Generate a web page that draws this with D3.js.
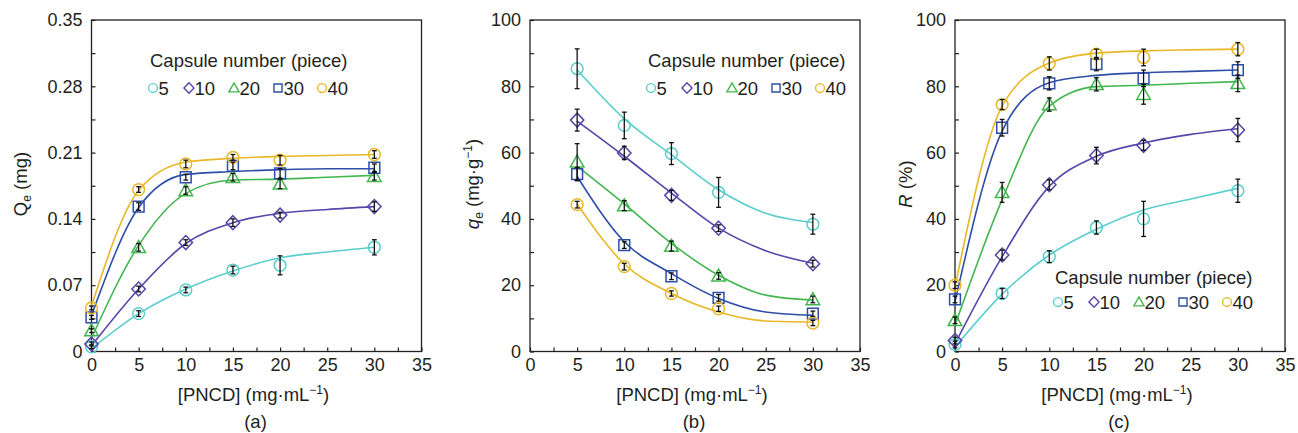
<!DOCTYPE html>
<html>
<head>
<meta charset="utf-8">
<script src="https://cdn.jsdelivr.net/npm/d3@7"></script>
<style>
  body { margin: 0; background: #fff; }
  text { font-family: Arial, "Liberation Sans", sans-serif; fill: #231f20; }
</style>
</head>
<body>
<svg id="chart" width="1298" height="433"></svg>
<script>
// ---- data ----
const capsules = [`5`, `10`, `20`, `30`, `40`];
const colors = [`#5ccdcd`, `#5546a8`, `#43b64f`, `#2f4ea8`, `#e8b828`];
const shapes = [`circle`, `diamond`, `triangle`, `square`, `circle`];

const xAC = [0, 5, 10, 15, 20, 30];
const xB = [5, 10, 15, 20, 30];
const fitXAC = [0, 5, 10, 15, 20, 25, 30];
const fitXB = [5, 10, 15, 20, 25, 30];

// (a) Qe (mg)
const qeMean = [
  [0.005, 0.040, 0.065, 0.086, 0.091, 0.110],
  [0.008, 0.066, 0.115, 0.136, 0.144, 0.153],
  [0.022, 0.110, 0.170, 0.184, 0.177, 0.185],
  [0.036, 0.153, 0.184, 0.196, 0.188, 0.194],
  [0.046, 0.171, 0.198, 0.205, 0.202, 0.208]
];
const qeErr = [
  [0.002, 0.003, 0.003, 0.004, 0.010, 0.008],
  [0.002, 0.003, 0.003, 0.004, 0.003, 0.005],
  [0.002, 0.004, 0.004, 0.004, 0.005, 0.004],
  [0.002, 0.004, 0.003, 0.004, 0.005, 0.004],
  [0.002, 0.003, 0.004, 0.003, 0.005, 0.004]
];
const qeFit = [
  [0.003, 0.040, 0.066, 0.085, 0.099, 0.105, 0.110],
  [0.006, 0.066, 0.114, 0.136, 0.146, 0.150, 0.153],
  [0.014, 0.112, 0.167, 0.181, 0.182, 0.184, 0.186],
  [0.038, 0.152, 0.187, 0.190, 0.192, 0.193, 0.193],
  [0.048, 0.170, 0.200, 0.204, 0.206, 0.207, 0.208]
];

// (b) qe (mg/g)
const qMean = [
  [85.3, 68.2, 59.7, 48.0, 38.4],
  [69.8, 59.9, 47.1, 37.2, 26.5],
  [57.2, 44.0, 31.8, 22.8, 15.7],
  [53.5, 32.1, 22.7, 16.2, 11.4],
  [44.3, 25.6, 17.5, 12.9, 8.6]
];
const qErr = [
  [6.0, 4.0, 3.3, 4.5, 3.0],
  [3.3, 2.0, 1.5, 1.0, 1.0],
  [5.5, 1.5, 1.5, 1.0, 1.0],
  [2.0, 1.0, 1.0, 1.0, 0.8],
  [1.0, 1.0, 0.8, 0.8, 0.8]
];
const qFit = [
  [85.0, 70.2, 59.4, 48.8, 41.7, 38.9],
  [69.5, 58.9, 47.8, 37.2, 30.4, 26.6],
  [55.9, 44.5, 32.6, 23.0, 17.0, 15.5],
  [52.8, 33.1, 23.5, 16.0, 11.9, 10.9],
  [44.5, 26.4, 17.5, 11.9, 9.2, 8.9]
];

// (c) R (%)
const rMean = [
  [2.1, 17.5, 28.6, 37.4, 40.0, 48.5],
  [3.3, 29.1, 50.3, 59.1, 62.2, 66.8],
  [9.4, 48.0, 74.5, 80.6, 77.6, 80.9],
  [15.7, 67.5, 80.9, 86.7, 82.4, 84.9],
  [20.0, 74.5, 86.9, 89.7, 88.7, 91.2]
];
const rErr = [
  [1.0, 1.5, 1.8, 2.0, 5.3, 3.5],
  [1.0, 1.5, 1.5, 2.5, 1.5, 3.5],
  [1.0, 3.0, 2.0, 2.0, 3.0, 2.5],
  [1.0, 2.5, 2.0, 2.0, 2.5, 2.5],
  [1.0, 1.5, 2.0, 1.5, 2.5, 2.0]
];
const rFit = [
  [1.3, 17.3, 29.1, 36.9, 42.7, 46.0, 49.2],
  [2.3, 28.6, 49.8, 58.9, 62.9, 65.5, 67.2],
  [7.9, 45.8, 74.0, 79.9, 80.3, 80.9, 81.4],
  [15.0, 66.5, 81.1, 83.3, 84.1, 84.5, 84.9],
  [19.5, 74.0, 87.0, 90.0, 90.7, 91.0, 91.2]
];

const xTicks = [0, 5, 10, 15, 20, 25, 30, 35];
const yTicksA = [0, 0.07, 0.14, 0.21, 0.28, 0.35];
const yTicksBC = [0, 20, 40, 60, 80, 100];

// ---- drawing ----
const svg = d3.select(`#chart`);
const plotTop = 20, plotBottom = 351.5, plotW = 330;
const legendTitle = `Capsule number (piece)`;
const fs = 18.5, fsTick = 18, fsSmall = 12;

const markerPath = (shape, s) => {
  const p = d3.path();
  if (shape === `circle`) { p.arc(0, 0, 5.9 * s, 0, 2 * Math.PI); }
  else if (shape === `square`) { p.rect(-5.4 * s, -5.4 * s, 10.8 * s, 10.8 * s); }
  else if (shape === `diamond`) {
    p.moveTo(0, -7 * s); p.lineTo(6.7 * s, 0); p.lineTo(0, 7 * s); p.lineTo(-6.7 * s, 0); p.closePath();
  } else {
    p.moveTo(0, -6.8 * s); p.lineTo(6.8 * s, 5.2 * s); p.lineTo(-6.8 * s, 5.2 * s); p.closePath();
  }
  return p.toString();
};

const drawPanel = (cfg) => {
  const g = svg.append(`g`).attr(`transform`, `translate(${cfg.left},0)`);
  const x = d3.scaleLinear().domain([0, 35]).range([0, plotW]);
  const y = d3.scaleLinear().domain(cfg.yDomain).range([plotBottom, plotTop]);

  // minor ticks
  const xMinor = d3.range(2.5, 35, 5);
  const yStep = cfg.yTicks[1] - cfg.yTicks[0];
  const yMinor = cfg.yTicks.slice(0, -1).map(v => v + yStep / 2);

  const xAxis = g.append(`g`).attr(`transform`, `translate(0,${plotBottom})`)
    .call(d3.axisBottom(x).tickValues(xTicks).tickSizeInner(-4).tickSizeOuter(0).tickPadding(7));
  g.append(`g`).attr(`transform`, `translate(0,${plotBottom})`)
    .call(d3.axisBottom(x).tickValues(xMinor).tickSizeInner(-4).tickSizeOuter(0).tickFormat(``));
  const yAxis = g.append(`g`)
    .call(d3.axisLeft(y).tickValues(cfg.yTicks).tickSizeInner(-4).tickSizeOuter(0).tickPadding(9).tickFormat(cfg.fmt));
  g.append(`g`)
    .call(d3.axisLeft(y).tickValues(yMinor).tickSizeInner(-4).tickSizeOuter(0).tickFormat(``));
  g.selectAll(`.domain`).remove();
  g.selectAll(`.tick line`).attr(`stroke`, `#231f20`).attr(`stroke-width`, 1.2);
  xAxis.selectAll(`text`).attr(`font-size`, fsTick).attr(`fill`, `#231f20`);
  yAxis.selectAll(`text`).attr(`font-size`, fsTick).attr(`fill`, `#231f20`);

  g.append(`rect`)
    .attr(`x`, 0).attr(`y`, plotTop).attr(`width`, plotW).attr(`height`, plotBottom - plotTop)
    .attr(`fill`, `none`).attr(`stroke`, `#231f20`).attr(`stroke-width`, 1.3);

  // fitted curves
  const line = d3.line().x(d => x(d[0])).y(d => y(d[1])).curve(d3.curveMonotoneX);
  cfg.fit.forEach((vals, i) => {
    g.append(`path`)
      .datum(cfg.fitX.map((xv, j) => [xv, vals[j]]))
      .attr(`d`, line).attr(`fill`, `none`)
      .attr(`stroke`, colors[i]).attr(`stroke-width`, 1.6);
  });

  // markers
  cfg.mean.forEach((vals, i) => {
    g.append(`g`).selectAll(`path`)
      .data(cfg.xs.map((xv, j) => [xv, vals[j]]))
      .join(`path`)
      .attr(`d`, markerPath(shapes[i], 1))
      .attr(`transform`, d => `translate(${x(d[0])},${y(d[1])})`)
      .attr(`fill`, `none`).attr(`stroke`, colors[i]).attr(`stroke-width`, 1.5);
  });

  // error bars
  cfg.mean.forEach((vals, i) => {
    const eg = g.append(`g`).attr(`stroke`, `#111`).attr(`stroke-width`, 1.3);
    cfg.xs.forEach((xv, j) => {
      const cx = x(xv), y1 = y(vals[j] + cfg.err[i][j]), y2 = y(vals[j] - cfg.err[i][j]);
      eg.append(`line`).attr(`x1`, cx).attr(`x2`, cx).attr(`y1`, y1).attr(`y2`, y2);
      eg.append(`line`).attr(`x1`, cx - 2.4).attr(`x2`, cx + 2.4).attr(`y1`, y1).attr(`y2`, y1);
      eg.append(`line`).attr(`x1`, cx - 2.4).attr(`x2`, cx + 2.4).attr(`y1`, y2).attr(`y2`, y2);
    });
  });

  // legend
  const lg = g.append(`g`).attr(`transform`, `translate(${cfg.legend[0]},${cfg.legend[1]})`);
  lg.append(`text`).attr(`x`, 0).attr(`y`, 0).attr(`font-size`, fs).text(legendTitle);
  const offs = [3, 39, 84, 128, 172];
  capsules.forEach((c, i) => {
    lg.append(`path`).attr(`d`, markerPath(shapes[i], 0.75))
      .attr(`transform`, `translate(${offs[i]},${cfg.legend[2]})`)
      .attr(`fill`, `none`).attr(`stroke`, colors[i]).attr(`stroke-width`, 1.4);
    lg.append(`text`).attr(`x`, offs[i] + 5.5).attr(`y`, cfg.legend[2] + 6.5).attr(`font-size`, fs).text(c);
  });

  // axis titles
  const xt = g.append(`text`).attr(`x`, plotW / 2 - 3).attr(`y`, 401)
    .attr(`text-anchor`, `middle`).attr(`font-size`, fs);
  xt.append(`tspan`).text(`[PNCD] (mg·mL`);
  xt.append(`tspan`).attr(`dy`, -7).attr(`font-size`, fsSmall).text(`−1`);
  xt.append(`tspan`).attr(`dy`, 7).text(`)`);

  g.append(`text`).attr(`x`, plotW / 2 - 1).attr(`y`, 428)
    .attr(`text-anchor`, `middle`).attr(`font-size`, fs).text(cfg.tag);

  const yt = g.append(`text`)
    .attr(`transform`, `translate(${cfg.yTitleX},${cfg.yTitleY}) rotate(-90)`)
    .attr(`text-anchor`, `middle`).attr(`font-size`, fs);
  cfg.yTitle(yt);
};

drawPanel({
  left: 91.5, yDomain: [0, 0.35], yTicks: yTicksA,
  fmt: d => d === 0 ? `0` : d.toFixed(2),
  xs: xAC, mean: qeMean, err: qeErr, fitX: fitXAC, fit: qeFit,
  legend: [58.5, 67, 21], tag: `(a)`, yTitleX: -64.5, yTitleY: 184,
  yTitle: t => {
    t.append(`tspan`).text(`Q`);
    t.append(`tspan`).attr(`dy`, 4).attr(`font-size`, fsSmall).text(`e`);
    t.append(`tspan`).attr(`dy`, -4).text(` (mg)`);
  }
});

drawPanel({
  left: 530, yDomain: [0, 100], yTicks: yTicksBC,
  fmt: d3.format(`d`),
  xs: xB, mean: qMean, err: qErr, fitX: fitXB, fit: qFit,
  legend: [118, 67, 21], tag: `(b)`, yTitleX: -51, yTitleY: 184,
  yTitle: t => {
    t.append(`tspan`).attr(`font-style`, `italic`).text(`q`);
    t.append(`tspan`).attr(`dy`, 4).attr(`font-size`, fsSmall).text(`e`);
    t.append(`tspan`).attr(`dy`, -4).text(` (mg·g`);
    t.append(`tspan`).attr(`dy`, -7).attr(`font-size`, fsSmall).text(`−1`);
    t.append(`tspan`).attr(`dy`, 7).text(`)`);
  }
});

drawPanel({
  left: 955, yDomain: [0, 100], yTicks: yTicksBC,
  fmt: d3.format(`d`),
  xs: xAC, mean: rMean, err: rErr, fitX: fitXAC, fit: rFit,
  legend: [100, 284, 18], tag: `(c)`, yTitleX: -43, yTitleY: 184,
  yTitle: t => {
    t.append(`tspan`).attr(`font-style`, `italic`).text(`R`);
    t.append(`tspan`).text(` (%)`);
  }
});
</script>
</body>
</html>
